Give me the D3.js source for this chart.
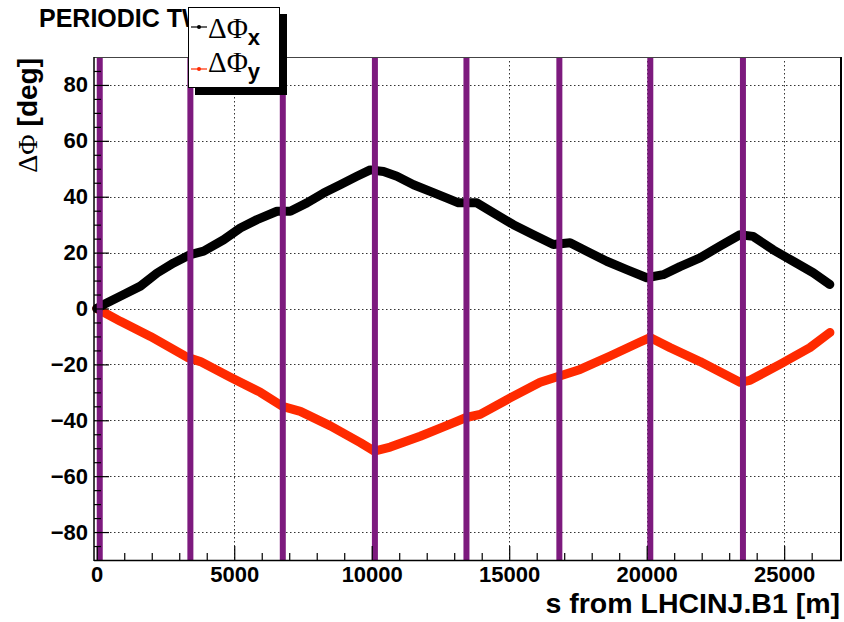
<!DOCTYPE html>
<html>
<head>
<meta charset="utf-8">
<script src="https://cdn.jsdelivr.net/npm/d3@7"></script>
<style>
  html, body { margin: 0; padding: 0; background: #fff; }
  svg { display: block; }
  text { font-family: "Liberation Sans", Arial, sans-serif; font-weight: bold; fill: #000; }
</style>
</head>
<body>
<svg id="chart" width="844" height="622"></svg>
<script>
// ---- data ----
const titleText = "PERIODIC TW";
const xTitle = "s from LHCINJ.B1 [m]";
const yTicks = [-80, -60, -40, -20, 0, 20, 40, 60, 80];
const xTicks = [0, 5000, 10000, 15000, 20000, 25000];

// positions of the vertical markers (purple lines), metres
const markerS = [109, 3405, 6766, 10116, 13445, 16824, 20131, 23500];

// Delta Phi x (deg) vs s (m)
const sX = [0, 254, 982, 1588, 2195, 2798, 3405, 3888, 4615, 5222, 5828, 6555, 7039, 7645, 8249, 8855, 9462, 9946,
            10430, 10916, 11521, 12126, 12733, 13154, 13823, 14426, 15153, 15880, 16606, 17213, 17820, 18546, 19273,
            20000, 20603, 21210, 21937, 22663, 23390, 23874, 24600, 25327, 26054, 26660];
const dPhiX = [0, 1.4, 5, 8, 12.7, 16.3, 19.3, 20.5, 24.6, 28.8, 31.8, 34.8, 34.8, 37.8, 41.3, 44.3, 47.3, 49.6,
               49, 47.3, 44.3, 41.9, 39.5, 37.8, 37.8, 34.2, 30, 26.4, 22.9, 23.5, 20.5, 16.9, 13.9,
               11, 12.1, 15, 18.1, 22.3, 26.4, 25.8, 21, 16.9, 12.8, 8.6];

// Delta Phi y (deg) vs s (m)
const sY = [0, 861, 1952, 3296, 3769, 4859, 5950, 6749, 7403, 8494, 9584, 10093, 10674, 11764, 12854, 13436, 13945,
            15035, 16125, 16779, 17579, 18669, 19759, 20122, 20849, 21939, 23393, 23756, 24846, 25936, 26663];
const dPhiY = [0, -4.6, -10, -17.5, -19, -24.6, -30, -35, -36.8, -42, -48, -51, -49.6, -45.7, -41.4, -39, -37.9,
               -32, -26.4, -24.3, -21.8, -17, -12, -10.4, -14, -19, -26.4, -25.7, -20, -14, -8.6];

// ---- layout ----
const L = 94, R = 840, T = 57, B = 560;
const svg = d3.select("#chart");

const x = d3.scaleLinear().domain([-100, 27030]).range([L, R]);
const y = d3.scaleLinear().domain([-90, 90]).range([B, T]);

// title (cut by the legend box, as in the reference)
svg.append("clipPath").attr("id", "titleClip").append("rect").attr("x", 0).attr("y", 0).attr("width", 188).attr("height", 50);
svg.append("text").attr("x", 39).attr("y", 27).attr("clip-path", "url(#titleClip)").style("font-size", "25px").text(titleText);

// frame background
svg.append("rect").attr("x", L).attr("y", T).attr("width", R - L).attr("height", B - T).attr("fill", "#fff");

// grid
const grid = svg.append("g").attr("stroke", "#333").attr("stroke-width", 1).attr("stroke-dasharray", "1.5,2.5");
grid.selectAll("line.gy").data(yTicks).enter().append("line")
  .attr("x1", L).attr("x2", R).attr("y1", d => Math.round(y(d)) + 0.5).attr("y2", d => Math.round(y(d)) + 0.5);
grid.selectAll("line.gx").data(xTicks.filter(d => d > 0)).enter().append("line")
  .attr("y1", T + 4).attr("y2", B).attr("x1", d => Math.round(x(d)) + 0.5).attr("x2", d => Math.round(x(d)) + 0.5);

// curves
const lineX = d3.line().x((d, i) => x(sX[i])).y(d => y(d));
const lineY = d3.line().x((d, i) => x(sY[i])).y(d => y(d));
svg.append("path").attr("d", lineY(dPhiY)).attr("fill", "none").attr("stroke", "#ff2a00")
  .attr("stroke-width", 9).attr("stroke-linejoin", "round").attr("stroke-linecap", "round");
svg.append("path").attr("d", lineX(dPhiX)).attr("fill", "none").attr("stroke", "#000")
  .attr("stroke-width", 9).attr("stroke-linejoin", "round").attr("stroke-linecap", "round");

// purple marker lines
svg.selectAll("line.mk").data(markerS).enter().append("line")
  .attr("x1", d => x(d)).attr("x2", d => x(d)).attr("y1", T).attr("y2", B)
  .attr("stroke", "#7d1a7e").attr("stroke-width", 6);

// axes: ticks inside
const yMajor = d3.axisLeft(y).tickValues(yTicks).tickSize(-15).tickPadding(6).tickFormat(d3.format("d"));
const yMinor = d3.axisLeft(y).tickValues(d3.range(-85, 90, 5).filter(v => v % 20 !== 0)).tickSize(-7).tickFormat("");
const xMajor = d3.axisBottom(x).tickValues(xTicks).tickSize(-14).tickPadding(6).tickFormat(d3.format("d"));
const xMinor = d3.axisBottom(x).tickValues(d3.range(1000, 27000, 1000).filter(v => v % 5000 !== 0)).tickSize(-7).tickFormat("");

function styleAxis(g) {
  g.select(".domain").remove();
  g.selectAll("line").attr("stroke", "#000").attr("stroke-width", 1.2);
  g.selectAll("text").style("font-size", "22px").style("font-family", "'Liberation Sans', Arial, sans-serif")
    .style("font-weight", "bold").attr("fill", "#000");
}
svg.append("g").attr("transform", `translate(${L},0)`).call(yMajor).call(styleAxis);
svg.append("g").attr("transform", `translate(${L},0)`).call(yMinor).call(styleAxis);
svg.append("g").attr("transform", `translate(0,${B})`).call(xMajor).call(styleAxis);
svg.append("g").attr("transform", `translate(0,${B})`).call(xMinor).call(styleAxis);

// frame
svg.append("line").attr("x1", L).attr("x2", R).attr("y1", T + 0.5).attr("y2", T + 0.5).attr("stroke", "#444").attr("stroke-width", 1);
svg.append("line").attr("x1", R + 1).attr("x2", R + 1).attr("y1", T).attr("y2", B + 1).attr("stroke", "#000").attr("stroke-width", 2);
svg.append("line").attr("x1", L).attr("x2", L).attr("y1", T).attr("y2", B + 1).attr("stroke", "#000").attr("stroke-width", 1.5);
svg.append("line").attr("x1", L).attr("x2", R + 2).attr("y1", B + 0.5).attr("y2", B + 0.5).attr("stroke", "#000").attr("stroke-width", 1.5);

// axis titles
svg.append("text").attr("x", R).attr("y", 613).attr("text-anchor", "end").style("font-size", "28.5px").text(xTitle);
const yt = svg.append("text").attr("transform", "translate(37,58) rotate(-90)").attr("text-anchor", "end").style("font-size", "28px");
yt.append("tspan").style("font-family", "'Liberation Serif', 'Times New Roman', serif").style("font-weight", "normal").text("ΔΦ");
yt.append("tspan").text(" [deg]");

// legend with shadow
const lg = svg.append("g");
lg.append("rect").attr("x", 195).attr("y", 14).attr("width", 92).attr("height", 81).attr("fill", "#000");
lg.append("rect").attr("x", 188.5).attr("y", 7.5).attr("width", 91).attr("height", 80).attr("fill", "#fff").attr("stroke", "#000").attr("stroke-width", 1);
const entries = [
  { name: "x", color: "#000", yy: 27, base: 38 },
  { name: "y", color: "#ff2a00", yy: 69, base: 72 }
];
entries.forEach(e => {
  lg.append("line").attr("x1", 191).attr("x2", 207).attr("y1", e.yy).attr("y2", e.yy).attr("stroke", e.color).attr("stroke-width", 1.2);
  lg.append("circle").attr("cx", 199).attr("cy", e.yy).attr("r", 2).attr("fill", e.color);
  const t = lg.append("text").attr("x", 208).attr("y", e.base);
  t.append("tspan").style("font-family", "'Liberation Serif', 'Times New Roman', serif").style("font-weight", "normal")
    .style("font-size", "29px").text("ΔΦ");
  t.append("tspan").attr("dy", 7).style("font-size", "22px").text(e.name);
});
</script>
</body>
</html>
